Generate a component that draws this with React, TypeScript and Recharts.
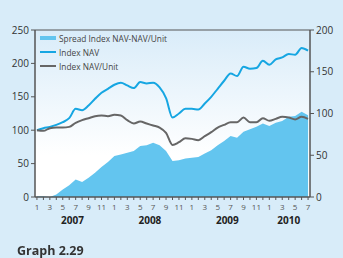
import {
  ComposedChart,
  Area,
  Line,
  XAxis,
  YAxis,
  CartesianGrid,
  ReferenceLine,
} from 'recharts'

// Jan 2007 .. Jul 2010, monthly
const months = [
  1, 2, 3, 4, 5, 6, 7, 8, 9, 10, 11, 12,
  1, 2, 3, 4, 5, 6, 7, 8, 9, 10, 11, 12,
  1, 2, 3, 4, 5, 6, 7, 8, 9, 10, 11, 12,
  1, 2, 3, 4, 5, 6, 7,
]
const years = [2007, 2008, 2009, 2010]

// left axis
const indexNav = [
  100, 103, 105, 108, 112, 118, 132, 130, 137, 147, 156, 162, 168, 171, 167,
  163, 172, 170, 171, 164, 148, 119, 125, 132, 132, 131, 140, 150, 162, 174,
  185, 181, 195, 192, 193, 204, 198, 206, 209, 214, 213, 223, 219,
]
const indexNavUnit = [
  100, 99, 103, 104, 104, 105, 111, 115, 118, 121, 122, 121, 123, 122, 115,
  110, 113, 110, 107, 104, 96, 78, 82, 88, 87, 85, 91, 97, 104, 108,
  112, 112, 119, 112, 112, 118, 114, 117, 120, 119, 116, 120, 117,
]
// right axis
const spread = [
  1, 1, 0, 3, 9, 14, 21, 18, 23, 29, 36, 42, 49, 51, 53,
  55, 61, 62, 65, 62, 55, 43, 44, 46, 47, 48, 52, 56, 62, 67,
  73, 71, 78, 81, 84, 88, 85, 89, 91, 96, 97, 102, 98,
]

const leftTicks = [0, 50, 100, 150, 200, 250]
const rightTicks = [0, 50, 100, 150, 200]

const data = months.map((m, i) => ({
  i,
  month: m,
  nav: indexNav[i],
  navUnit: indexNavUnit[i],
  spread: spread[i],
}))

const FONT = "'Open Sans', sans-serif"
const NAV_BLUE = '#16a6e2'
const GREY = '#666666'
const AREA_BLUE = '#63c5ef'

// year label sits under the middle of its months
const yearAt: Record<number, { label: number; shift: number }> = {
  5: { label: years[0], shift: 0.5 },
  17: { label: years[1], shift: 0.5 },
  29: { label: years[2], shift: 0.5 },
  39: { label: years[3], shift: 0 },
}

function MonthTick(props: any) {
  const { x, y, payload } = props
  const i = payload.value as number
  const m = months[i]
  const yr = yearAt[i]
  return (
    <g>
      {m % 2 === 1 && (
        <text x={x} y={y + 8} textAnchor="middle" fontSize={8} fill="#555" fontFamily={FONT}>
          {m}
        </text>
      )}
      {yr && (
        <text
          x={x + yr.shift * 6.45}
          y={y + 22}
          textAnchor="middle"
          fontSize={10}
          fontWeight="bold"
          fill="#222"
          fontFamily={FONT}
        >
          {yr.label}
        </text>
      )}
    </g>
  )
}

const legendItems = [
  { name: 'Spread Index NAV-NAV/Unit', color: AREA_BLUE, h: 4 },
  { name: 'Index NAV', color: NAV_BLUE, h: 2 },
  { name: 'Index NAV/Unit', color: GREY, h: 2 },
]

export default function App() {
  return (
    <div style={{ position: 'fixed', left: 0, top: 0, width: 343, height: 258, background: '#d8ecf9' }}>
      <ComposedChart
        width={343}
        height={258}
        data={data}
        margin={{ top: 30, right: 0, left: 0, bottom: 31 }}
      >
        <defs>
          <linearGradient id="plotBg" x1="0" y1="0" x2="0" y2="1">
            <stop offset="0%" stopColor="#d9ecf9" />
            <stop offset="75%" stopColor="#ffffff" />
            <stop offset="100%" stopColor="#ffffff" />
          </linearGradient>
        </defs>
        <CartesianGrid fill="url(#plotBg)" horizontal={false} vertical={false} />
        <XAxis
          dataKey="i"
          type="number"
          domain={[-0.3, 42.3]}
          ticks={months.map((_, i) => i)}
          interval={0}
          tick={<MonthTick />}
          tickSize={3}
          tickLine={{ stroke: '#555' }}
          axisLine={{ stroke: '#555', strokeWidth: 1.5 }}
          height={30}
        />
        <YAxis
          yAxisId="left"
          domain={[0, 250]}
          ticks={leftTicks}
          width={35}
          tickSize={4}
          tick={{ fontSize: 10, fill: '#333', fontFamily: FONT }}
          tickLine={{ stroke: '#555' }}
          axisLine={{ stroke: '#555', strokeWidth: 1.5 }}
        />
        <YAxis
          yAxisId="right"
          orientation="right"
          domain={[0, 200]}
          ticks={rightTicks}
          width={33}
          tickSize={4}
          tick={{ fontSize: 10, fill: '#333', fontFamily: FONT }}
          tickLine={{ stroke: '#555' }}
          axisLine={{ stroke: '#555', strokeWidth: 1.5 }}
        />
        <ReferenceLine yAxisId="left" y={250} stroke="#555" strokeWidth={1} />
        <Area
          yAxisId="right"
          type="linear"
          dataKey="spread"
          name="Spread Index NAV-NAV/Unit"
          stroke="none"
          fill={AREA_BLUE}
          fillOpacity={1}
          isAnimationActive={false}
        />
        <Line
          yAxisId="left"
          type="monotone"
          dataKey="nav"
          name="Index NAV"
          stroke={NAV_BLUE}
          strokeWidth={2}
          dot={false}
          isAnimationActive={false}
        />
        <Line
          yAxisId="left"
          type="monotone"
          dataKey="navUnit"
          name="Index NAV/Unit"
          stroke={GREY}
          strokeWidth={2}
          dot={false}
          isAnimationActive={false}
        />
      </ComposedChart>
      <div
        style={{
          position: 'absolute',
          left: 40,
          top: 31,
          fontFamily: FONT,
          fontSize: 8.3,
          color: '#444',
        }}
      >
        {legendItems.map((it) => (
          <div key={it.name} style={{ display: 'flex', alignItems: 'center', height: 14 }}>
            <span style={{ width: 16, height: it.h, background: it.color, marginRight: 3 }} />
            <span>{it.name}</span>
          </div>
        ))}
      </div>
      <div
        style={{
          position: 'absolute',
          left: 17,
          top: 244,
          fontFamily: FONT,
          fontSize: 12.5,
          lineHeight: '14px',
          fontWeight: 'bold',
          color: '#333',
        }}
      >
        Graph 2.29
      </div>
    </div>
  )
}
